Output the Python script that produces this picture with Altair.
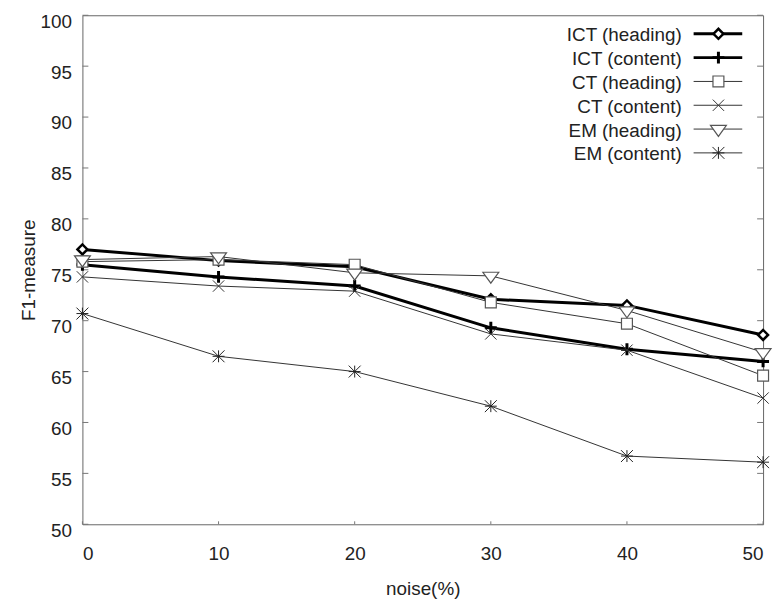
import altair as alt
import pandas as pd

# ---------------- data ----------------
noise = [0, 10, 20, 30, 40, 50]
ict_heading = [77.0, 75.9, 75.3, 72.1, 71.5, 68.6]
ict_content = [75.5, 74.3, 73.4, 69.3, 67.2, 66.0]
ct_heading = [75.8, 76.0, 75.5, 71.8, 69.7, 64.6]
ct_content = [74.3, 73.4, 72.9, 68.7, 67.1, 62.4]
em_heading = [76.0, 76.3, 74.7, 74.4, 71.0, 66.9]
em_content = [70.7, 66.5, 65.0, 61.6, 56.7, 56.1]

series_names = ["ICT (heading)", "ICT (content)", "CT (heading)",
                "CT (content)", "EM (heading)", "EM (content)"]
series_values = [ict_heading, ict_content, ct_heading,
                 ct_content, em_heading, em_content]

x_ticks = [0, 10, 20, 30, 40, 50]
y_ticks = [50, 55, 60, 65, 70, 75, 80, 85, 90, 95, 100]

# ---------------- styling ----------------
W, H = 686, 513
FONT = "Liberation Sans"
FS = 19
TXT = "#222"

styles = [
    dict(color="#000", width=3, shape="diamond", size=100, mstroke="#000", msw=2.5, fill=True),
    dict(color="#000", width=3, shape="M-1,0L1,0M0,-1L0,1", size=144, mstroke="#000", msw=3, fill=False),
    dict(color="#333", width=1, shape="square", size=121, mstroke="#555", msw=1.2, fill=True),
    dict(color="#333", width=1, shape="M-1,-1L1,1M-1,1L1,-1", size=130, mstroke="#333", msw=1, fill=False),
    dict(color="#333", width=1, shape="M-1,-0.46L1,-0.46L0,0.92Z", size=256, mstroke="#555", msw=1.2, fill=True),
    dict(color="#333", width=1, shape="M-1,0L1,0M0,-1L0,1M-1,-1L1,1M-1,1L1,-1", size=144, mstroke="#222", msw=1, fill=False),
]

xs = alt.Scale(domain=[0, 50], nice=False, zero=False)
ys = alt.Scale(domain=[50, 100], nice=False, zero=False)

x_axis = alt.Axis(values=x_ticks, title="noise(%)", grid=False, domain=False,
                  ticks=False, tickSize=0, labelFont=FONT, labelFontSize=FS,
                  labelColor=TXT, labelPadding=36, labelBaseline="alphabetic",
                  titleFont=FONT, titleFontSize=FS, titleFontWeight="normal",
                  titleColor=TXT, titleBaseline="alphabetic", titleY=71,
                  titleX=W / 2)
y_axis = alt.Axis(values=y_ticks, title="F1-measure", grid=False, domain=False,
                  ticks=False, tickSize=0, labelFont=FONT, labelFontSize=FS,
                  labelColor=TXT, labelPadding=11, labelBaseline="middle",
                  labelOffset=6,
                  titleFont=FONT, titleFontSize=FS, titleFontWeight="normal",
                  titleColor=TXT, titleBaseline="middle", titleX=-54,
                  titleY=H / 2, titleAngle=270)

X = alt.X("noise:Q", scale=xs, axis=x_axis)
Y = alt.Y("value:Q", scale=ys, axis=y_axis)


def point_mark(st):
    if st["fill"]:
        return alt.Chart().mark_point(shape=st["shape"], size=st["size"],
                                      filled=True, fill="white",
                                      stroke=st["mstroke"],
                                      strokeWidth=st["msw"], opacity=1)
    return alt.Chart().mark_point(shape=st["shape"], size=st["size"],
                                  filled=False, stroke=st["mstroke"],
                                  strokeWidth=st["msw"], opacity=1)


layers = []

# inward tick marks (left, right, bottom)
yt = pd.DataFrame({"value": y_ticks})
xt = pd.DataFrame({"noise": x_ticks})
layers.append(alt.Chart(yt).mark_rule(color="#777", strokeWidth=1).encode(
    y=Y, x=alt.value(0), x2=alt.value(6)))
layers.append(alt.Chart(yt).mark_rule(color="#777", strokeWidth=1).encode(
    y=Y, x=alt.value(W - 6), x2=alt.value(W)))
layers.append(alt.Chart(xt).mark_rule(color="#777", strokeWidth=1).encode(
    x=X, y=alt.value(H - 3), y2=alt.value(H)))

# series
for name, vals, st in zip(series_names, series_values, styles):
    df = pd.DataFrame({"noise": noise, "value": vals})
    layers.append(alt.Chart(df).mark_line(color=st["color"],
                                          strokeWidth=st["width"]).encode(x=X, y=Y))
    pm = point_mark(st)
    layers.append(pm.properties(data=df).encode(x=X, y=Y))

# legend (top-right, gnuplot style)
one = pd.DataFrame({"k": [0]})
for i, (name, st) in enumerate(zip(series_names, styles)):
    ry = 18.7 + 24 * i
    layers.append(alt.Chart(one).mark_text(align="right", baseline="middle",
                                           font=FONT, fontSize=FS, color=TXT).encode(
        x=alt.value(604), y=alt.value(ry + 1.5), text=alt.value(name)))
    layers.append(alt.Chart(one).mark_rule(color=st["color"],
                                           strokeWidth=st["width"]).encode(
        x=alt.value(616), x2=alt.value(665), y=alt.value(ry)))
    pm = point_mark(st)
    layers.append(pm.properties(data=one).encode(x=alt.value(641), y=alt.value(ry)))

chart = alt.layer(*layers).properties(
    width=W, height=H,
    autosize=alt.AutoSizeParams(type="none"),
    padding={"left": 75, "top": 5, "right": 10, "bottom": 75},
).configure_view(stroke="#666", strokeWidth=1)

chart.save("out.html", embed_options={"renderer": "svg", "actions": False})
